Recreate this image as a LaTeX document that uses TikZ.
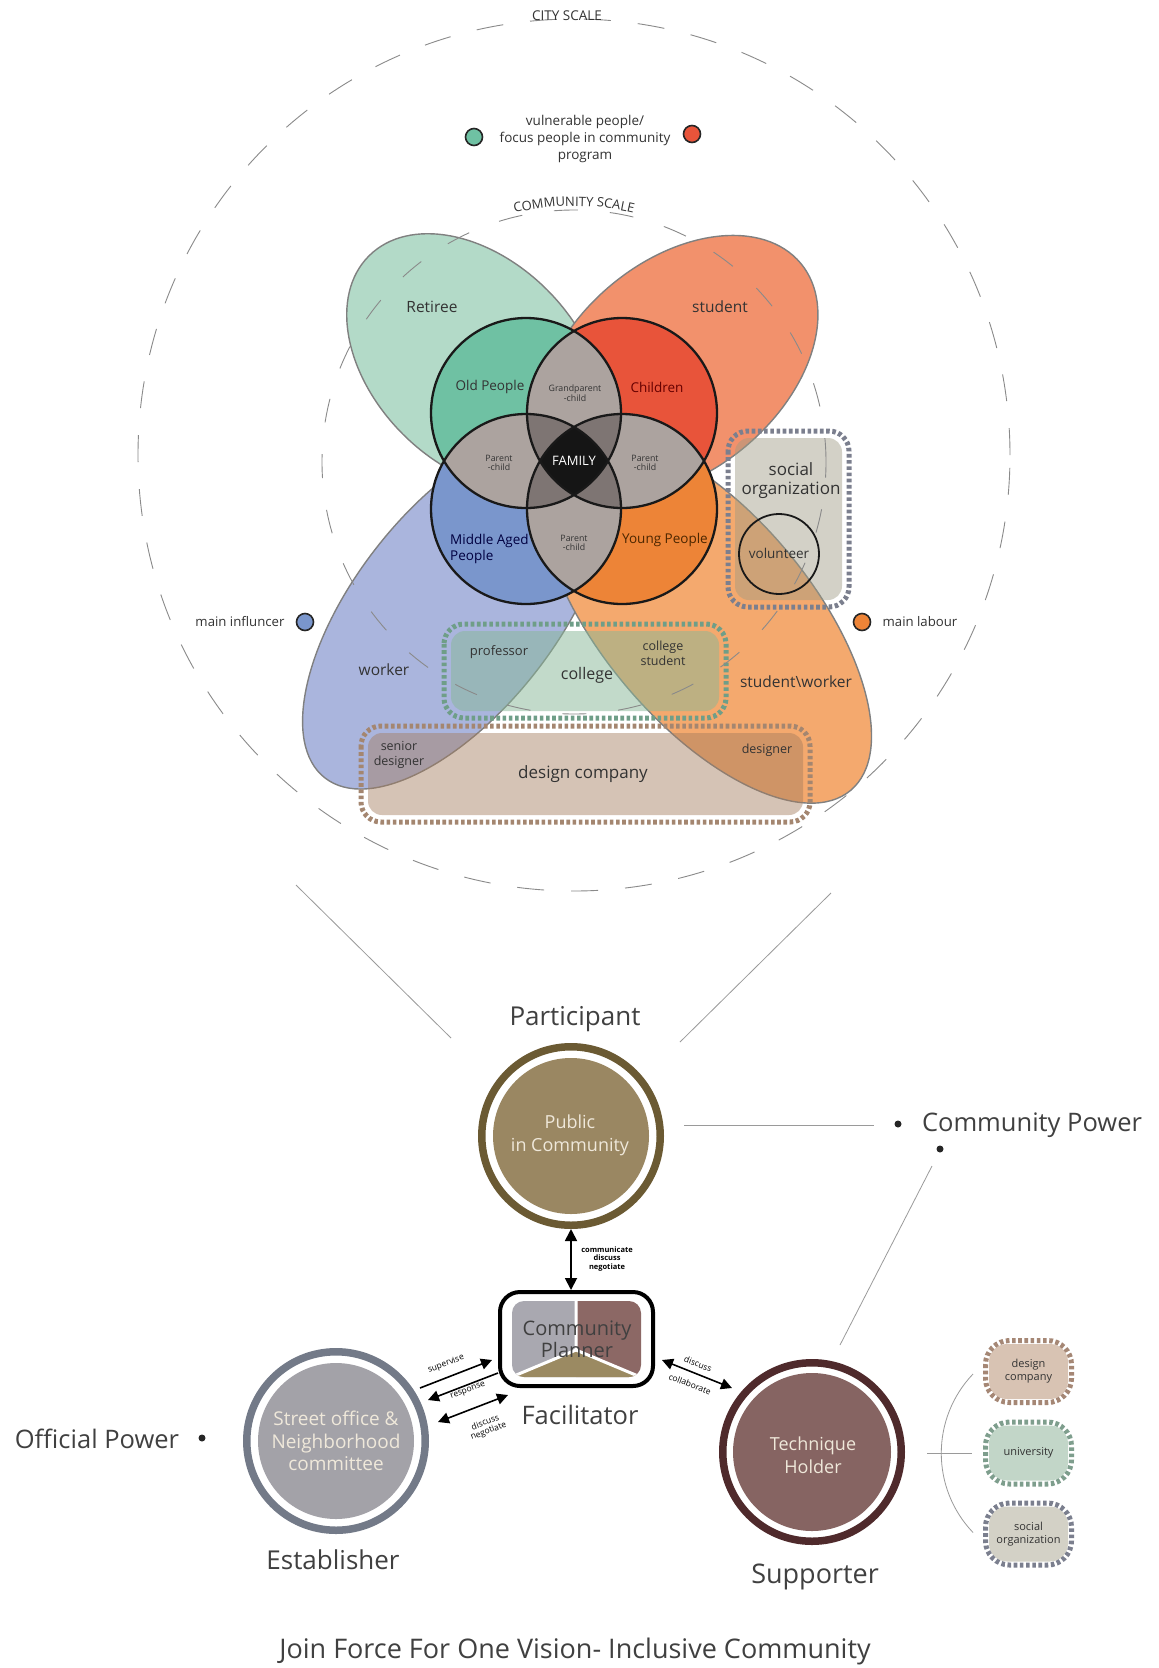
\documentclass[tikz,border=0pt]{standalone}
\usepackage{fontspec}
\setmainfont{Open Sans}
\usetikzlibrary{arrows.meta,decorations.text}
\definecolor{gEll}{HTML}{B3DAC8}
\definecolor{sEll}{HTML}{F2916C}
\definecolor{bEll}{HTML}{AAB5DD}
\definecolor{oEll}{HTML}{F4A96E}
\definecolor{ellLine}{HTML}{808080}
\definecolor{oldC}{HTML}{6FC1A3}
\definecolor{chiC}{HTML}{E8543A}
\definecolor{midC}{HTML}{7A96CC}
\definecolor{youC}{HTML}{ED8437}
\definecolor{pairC}{HTML}{ACA39F}
\definecolor{tripC}{HTML}{7E7573}
\definecolor{quadC}{HTML}{151515}
\definecolor{socB}{HTML}{7B7F8E}
\definecolor{socF}{HTML}{9E9B83}
\definecolor{colB}{HTML}{6F9E88}
\definecolor{colF}{HTML}{87B797}
\definecolor{desB}{HTML}{A48670}
\definecolor{desF}{HTML}{A47C5D}
\definecolor{pubR}{HTML}{6B5A33}
\definecolor{pubF}{HTML}{9A8762}
\definecolor{estR}{HTML}{737A88}
\definecolor{estF}{HTML}{A3A2A8}
\definecolor{tecR}{HTML}{4F2A2C}
\definecolor{tecF}{HTML}{866462}
\definecolor{txt}{HTML}{333333}
\definecolor{ltxt}{HTML}{EFE8DA}
\definecolor{thinC}{HTML}{9A9A9A}
\definecolor{dashC}{HTML}{8A8A8A}
\definecolor{plGrey}{HTML}{A9A8B0}
\definecolor{plMauve}{HTML}{8C6865}
\definecolor{plTan}{HTML}{9B8A62}
\definecolor{sbDesF}{HTML}{D8C3B3}
\definecolor{sbDesB}{HTML}{A58775}
\definecolor{sbUniF}{HTML}{C2D6C8}
\definecolor{sbUniB}{HTML}{7E9E8D}
\definecolor{sbSocF}{HTML}{D3D1C6}
\definecolor{sbSocB}{HTML}{7B7F8E}
\newcommand\fz[2]{\fontsize{#1}{#2}\selectfont}
\begin{document}
\begin{tikzpicture}[x=1pt,y=-1pt,
  lab/.style={text=txt, inner sep=0pt, align=center},
  ell/.style={draw=ellLine, line width=1.4pt},
  dotb/.style={draw=#1, line width=5pt, dash pattern=on 3.6pt off 2.6pt, rounded corners=20pt},
  thinln/.style={draw=thinC, line width=0.8pt},
  pdot/.style={circle, fill=#1, draw=black!85, line width=1.6pt, minimum size=17pt, inner sep=0pt},
  bdot/.style={circle, fill=black!85, minimum size=7pt, inner sep=0pt},
  ring/.style={circle, draw=#1, line width=7.5pt, minimum size=178.5pt, inner sep=0pt},
  arr/.style={line width=1.6pt, -{Triangle[length=11pt,width=11pt]}},
  darr/.style={line width=1.6pt, {Triangle[length=11pt,width=11pt]}-{Triangle[length=11pt,width=11pt]}},
  sbox/.style={fill=#1, rounded corners=18pt, minimum width=79pt, minimum height=55pt, inner sep=0pt, text=txt, align=center, font=\fz{11}{13}}
]
\fill[white] (0,0) rectangle (1159,1668);
\useasboundingbox (0,0) rectangle (1159,1668);

% ---------- ellipses
\begin{scope}[shift={(475,362)},rotate=-45]
  \draw[ell, fill=gEll] (0,0) ellipse [x radius=150pt, y radius=102pt];
\end{scope}
\begin{scope}[shift={(678,366)},rotate=40]
  \draw[ell, fill=sEll] (0,0) ellipse [x radius=160pt, y radius=105pt];
\end{scope}
\begin{scope}[shift={(456,610)},rotate=52]
  \draw[ell, fill=bEll] (0,0) ellipse [x radius=213pt, y radius=101pt];
\end{scope}
\begin{scope}[shift={(706,618)},rotate=-50]
  \draw[ell, fill=oEll] (0,0) ellipse [x radius=225pt, y radius=105pt];
\end{scope}

% ---------- Venn circles
\coordinate (TL) at (526,413);
\coordinate (TR) at (622,413);
\coordinate (BL) at (526,509);
\coordinate (BR) at (622,509);
\def\R{95pt}
\fill[oldC] (TL) circle (\R);
\fill[chiC] (TR) circle (\R);
\fill[midC] (BL) circle (\R);
\fill[youC] (BR) circle (\R);
\foreach \a/\b in {TL/TR,TL/BL,TR/BR,BL/BR,TL/BR,TR/BL}{
  \begin{scope}\clip (\a) circle (\R); \fill[pairC] (\b) circle (\R);\end{scope}}
\foreach \a/\b/\c in {TL/TR/BL,TL/TR/BR,TL/BL/BR,TR/BL/BR}{
  \begin{scope}\clip (\a) circle (\R); \clip (\b) circle (\R); \fill[tripC] (\c) circle (\R);\end{scope}}
\begin{scope}\clip (TL) circle (\R); \clip (TR) circle (\R); \clip (BL) circle (\R); \fill[quadC] (BR) circle (\R);\end{scope}
\foreach \a in {TL,TR,BL,BR} \draw[line width=2.3pt, black!90] (\a) circle (\R);

% ---------- dotted boxes (top)
\fill[socF, fill opacity=.45, rounded corners=14pt] (735,438) rectangle (842,600);
\draw[dotb=socB] (728,431) rectangle (849,607);
\draw[line width=1.8pt, black!90] (779,554) circle (40pt);
\fill[colF, fill opacity=.5, rounded corners=14pt] (451,631) rectangle (719,711);
\draw[dotb=colB] (444,624) rectangle (726,718);
\fill[desF, fill opacity=.45, rounded corners=14pt] (368,733) rectangle (803,815);
\draw[dotb=desB] (361,726) rectangle (810,822);

% ---------- dashed scale circles
\draw[draw=dashC, line width=0.9pt, dash pattern=on 27pt off 27pt] (574,455) circle (436pt);
\draw[draw=dashC, line width=0.9pt, dash pattern=on 24pt off 32pt] (574,462) circle (252pt);
\node[lab, font=\fz{13.5}{15}] (city) at (567,16) {CITY SCALE};
\path[decorate, decoration={text along path, text align=center,
   text={|\fz{13}{13}\color{txt}|COMMUNITY SCALE}}]
   (574,462) ++(106:256pt) arc[start angle=106, end angle=74, radius=256pt];

% ---------- legend dots and texts
\node[lab, font=\fz{13.5}{17}] (vuln) at (585,139) {vulnerable people/\\focus people in community\\program};
\node[pdot=oldC] (vd1) at (474,137) {};
\node[pdot=chiC] (vd2) at (692,134) {};
\node[lab, font=\fz{13.2}{15}] (infl) at (240,622) {main influncer};
\node[pdot=midC] (infd) at (305,622) {};
\node[pdot=youC] (labd) at (862,622) {};
\node[lab, font=\fz{13.2}{15}] (labt) at (920,622) {main labour};

% ---------- Venn labels
\node[lab, font=\fz{15.5}{18}] (retiree) at (432,307) {Retiree};
\node[lab, font=\fz{15.5}{18}] (student) at (720,307) {student};
\node[lab, font=\fz{13.5}{16}, text=black!80] (old) at (490,387) {Old People};
\node[lab, font=\fz{8.8}{9.5}] (gpc) at (575,393) {Grandparent\\-child};
\node[lab, font=\fz{13.5}{16}, text=red!40!black] (chi) at (657,387) {Children};
\node[lab, font=\fz{8.8}{9.5}] (pc1) at (499,463) {Parent\\-child};
\node[lab, font=\fz{13}{14}, text=white] (fam) at (574,461) {FAMILY};
\node[lab, font=\fz{8.8}{9.5}] (pc2) at (645,463) {Parent\\-child};
\node[lab, font=\fz{13.5}{16}, text=blue!25!black, anchor=west, align=left] (mid) at (450,549) {Middle Aged\\People};
\node[lab, font=\fz{8.8}{9.5}] (pc3) at (574,543) {Parent\\-child};
\node[lab, font=\fz{13.5}{16}, text=orange!30!black] (you) at (665,540) {Young People};
\node[lab, font=\fz{17}{19}] (soc) at (791,481) {social\\organization};
\node[lab, font=\fz{13.5}{15}] (vol) at (779,553) {volunteer};
\node[lab, font=\fz{15.5}{18}] (worker) at (384,670) {worker};
\node[lab, font=\fz{13}{15}] (prof) at (499,652) {professor};
\node[lab, font=\fz{16}{18}] (college) at (587,675) {college};
\node[lab, font=\fz{12.5}{15}] (cstud) at (663,653) {college\\student};
\node[lab, font=\fz{15.5}{18}] (sw) at (796,682) {student\textbackslash worker};
\node[lab, font=\fz{12.5}{15}] (sdes) at (399,755) {senior\\designer};
\node[lab, font=\fz{17}{19}] (dco) at (583,774) {design company};
\node[lab, font=\fz{12.5}{14}] (des) at (767,750) {designer};

% ---------- lines to Participant
\coordinate (pl1) at (296,885); \coordinate (pl2) at (451,1038);
\coordinate (pr1) at (831,893); \coordinate (pr2) at (680,1042);
\draw[thinln] (pl1) -- (pl2);
\draw[thinln] (pr1) -- (pr2);

% ---------- bottom: Participant
\node[lab, font=\fz{26}{30}, text=black!75] (part) at (575,1019) {Participant};
\node[ring=pubR] (pub) at (571,1136) {};
\fill[pubF] (pub.center) circle (78pt);
\node[lab, font=\fz{18}{23}, text=ltxt] (pubt) at (570,1135) {Public\\in Community};

% planner
\node[draw=black, line width=4pt, rounded corners=20pt, minimum width=153pt, minimum height=94pt, inner sep=0pt] (planner) at (576.5,1339) {};
\begin{scope}
  \clip[rounded corners=12pt] (512,1301) rectangle (641,1377);
  \fill[plGrey] (500,1290) rectangle (576,1390);
  \fill[plMauve] (576,1290) rectangle (650,1390);
  \fill[plTan] (576,1350) -- (490,1386) -- (662,1386) -- cycle;
  \draw[white, line width=3pt] (576,1290) -- (576,1350) -- (490,1386);
  \draw[white, line width=3pt] (576,1350) -- (662,1386);
\end{scope}
\node[lab, font=\fz{20}{22}, text=black!75] (plt) at (577,1339) {Community\\Planner};
\node[lab, font=\fz{25.5}{28}, text=black!75] (fac) at (580,1415) {Facilitator};

\draw[line width=1.8pt, {Triangle[length=12pt,width=12pt]}-{Triangle[length=12pt,width=12pt]}] (pub.south) -- (pub.south |- planner.north);
\node[lab, font=\fz{7.5}{8.5}\bfseries, text=black] (cdn) at (607,1259) {communicate\\discuss\\negotiate};

% establisher
\node[ring=estR] (est) at (336,1441) {};
\fill[estF] (est.center) circle (78pt);
\node[lab, font=\fz{19}{22.5}, text=ltxt] (estt) at (336,1441) {Street office \&\\Neighborhood\\committee};
\node[lab, font=\fz{26}{30}, text=black!75] (estl) at (333,1560) {Establisher};
\node[lab, font=\fz{25.5}{30}, text=black!75] (offp) at (97,1439) {Official Power};
\node[bdot] (offd) at (202,1438) {};

% technique holder
\node[ring=tecR] (tec) at (812,1452) {};
\fill[tecF] (tec.center) circle (79pt);
\node[lab, font=\fz{18}{23}, text=ltxt] (tect) at (813,1455) {Technique\\Holder};
\node[lab, font=\fz{27}{30}, text=black!75] (supl) at (815,1577) {Supporter};

% arrows between roles
\coordinate (supS) at (420,1388); \coordinate (supE) at (492,1360);
\coordinate (resS) at (498,1373); \coordinate (resE) at (428,1400);
\coordinate (disS) at (438,1422); \coordinate (disE) at (508,1395);
\coordinate (colS) at (662,1360); \coordinate (colE) at (732,1388);
\draw[arr] (supS) -- (supE);
\draw[arr] (resS) -- (resE);
\draw[darr] (disS) -- (disE);
\draw[darr] (colS) -- (colE);
\node[lab, font=\fz{8.5}{9}, text=black, rotate=21] (supt) at (446,1364) {supervise};
\node[lab, font=\fz{8.5}{9}, text=black, rotate=21] (rest) at (468,1391) {response};
\node[lab, font=\fz{8.5}{9}, text=black, rotate=21] (dist) at (487,1427) {discuss\\negotiate};
\node[lab, font=\fz{8.5}{9}, text=black, rotate=-21] (dct) at (698,1364) {discuss};
\node[lab, font=\fz{8.5}{9}, text=black, rotate=-21] (clt) at (690,1384) {collaborate};

% community power
\node[lab, font=\fz{25.5}{30}, text=black!75] (cpow) at (1032,1125) {Community Power};
\node[bdot] (cpd1) at (898,1124) {};
\node[bdot] (cpd2) at (940,1149) {};
\coordinate (cpl1) at (684,1125); \coordinate (cpl2) at (874,1125);
\coordinate (cpl3) at (932,1166); \coordinate (cpl4) at (840,1345);
\draw[thinln] (cpl1) -- (cpl2);
\draw[thinln] (cpl3) -- (cpl4);

% supporter bracket and small boxes
\coordinate (br1) at (973,1374);
\coordinate (bh1) at (927,1453); \coordinate (bh2) at (972,1453);
\draw[thinln] (br1) arc[start angle=136.35, end angle=223.65, radius=114.8pt];
\draw[thinln] (bh1) -- (bh2);
\node[sbox=sbDesF] (sb1) at (1028.5,1371.5) {design\\company};
\draw[dotb=sbDesB, rounded corners=24pt] (985.5,1340.5) rectangle (1071.5,1402.5);
\node[sbox=sbUniF] (sb2) at (1028.5,1453) {university};
\draw[dotb=sbUniB, rounded corners=24pt] (985.5,1422) rectangle (1071.5,1484);
\node[sbox=sbSocF] (sb3) at (1028.5,1534) {social\\organization};
\draw[dotb=sbSocB, rounded corners=24pt] (985.5,1503) rectangle (1071.5,1565);

% title
\node[lab, font=\fz{27}{30}, text=black!75] (title) at (575,1651) {Join Force For One Vision- Inclusive Community};
\end{tikzpicture}
\end{document}
